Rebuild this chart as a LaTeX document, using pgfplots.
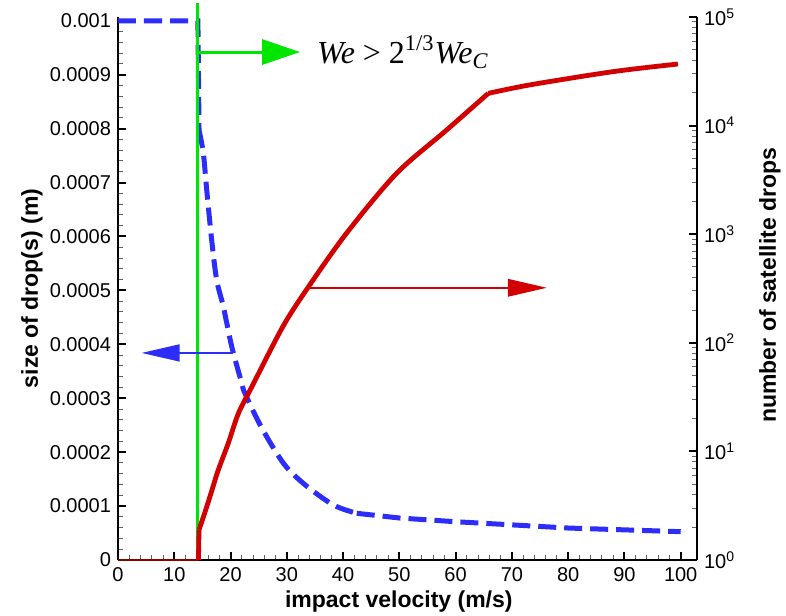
\documentclass[border=0pt]{standalone}
\usepackage{pgfplots}
\pgfplotsset{compat=1.18}
\usepackage{fontspec}
\setmainfont{Liberation Sans}
\newfontfamily\timesf{Liberation Serif}
\usetikzlibrary{arrows.meta}

\definecolor{dropblue}{RGB}{45,45,250}
\definecolor{satred}{RGB}{210,0,0}
\definecolor{critgreen}{RGB}{0,230,0}

% common look of both axes (1 px of the reference = 0.5pt)
\pgfplotsset{
  every axis/.append style={
    scale only axis, width=289.5pt, height=271.5pt,
    xmin=0, xmax=102.9,
    tick label style={font=\fontsize{10}{12}\selectfont},
    label style={font=\fontsize{11.5}{13}\selectfont\bfseries},
    /pgf/number format/assume math mode=true,
    axis line style={line width=1.2pt,-},
    tick align=inside,
    major tick length=4pt, minor tick length=2.5pt,
    major tick style={black,line width=1pt},
    minor tick style={black!60,line width=0.5pt},
  }
}

\begin{document}
\begin{tikzpicture}
\begin{axis}[name=main,
  axis x line*=bottom, axis y line*=left,
  ymin=0, ymax=0.001007,
  xtick={0,10,20,30,40,50,60,70,80,90,100},
  minor x tick num=4,
  ytick={0,0.0001,0.0002,0.0003,0.0004,0.0005,0.0006,0.0007,0.0008,0.0009,0.001},
  yticklabels={0,0.0001,0.0002,0.0003,0.0004,0.0005,0.0006,0.0007,0.0008,0.0009,0.001},
  scaled y ticks=false,
  minor y tick num=4,
  xlabel={impact velocity (m/s)},
  ylabel={size of drop(s) (m)},
  xlabel style={at={([yshift=-23.5pt]axis description cs:0.485,0)},anchor=base},
  ylabel style={at={([xshift=-43pt]axis description cs:0,0.5)},anchor=center},
  clip=false,
]
% size of drop(s)
\addplot[dropblue, line width=2.5pt, dash pattern=on 9pt off 4pt] coordinates {
  (0,0.001) (14.2,0.001) (14.4,0.000797)
};
\addplot[dropblue, line width=2.5pt, dash pattern=on 9pt off 4pt, smooth, tension=0.5] coordinates {
  (14.4,0.000797) (15.16,0.000755) (15.77,0.000686)
  (16.65,0.000593) (17.54,0.000519) (18.72,0.00047) (20.21,0.000396)
  (21.99,0.000328) (22.57,0.000309) (25.54,0.000245) (29.5,0.000178)
  (33.3,0.000139) (38.27,0.000102) (42.43,0.0000866)
};
\addplot[dropblue, line width=2.5pt, dash pattern=on 9pt off 4pt] coordinates {
  (42.43,0.0000866) (50,0.0000779) (60,0.000071) (80,0.0000593) (100,0.0000525)
};
% critical velocity
\addplot[critgreen, line width=1.5pt] coordinates {(14.17,0) (14.17,0.001033)};
\draw[critgreen, line width=1.5pt, -{Triangle[length=19pt,width=12.5pt]}]
  (axis cs:14.17,0.000942) -- (axis cs:32.35,0.000942);
\node[anchor=west, font=\fontsize{16}{19}\selectfont\timesf, inner sep=0pt]
  at (axis cs:35.3,0.000942)
  {\itshape We \upshape> 2\textsuperscript{1/3}\itshape We\textsubscript{C}};
\draw[dropblue, line width=0.75pt, -{Triangle[length=19pt,width=8.5pt]}]
  (axis cs:20.4,0.000384) -- (axis cs:4.2,0.000384);
\end{axis}

\begin{axis}[
  axis y line*=right, axis x line=none,
  ymode=log, ymin=1, ymax=100000,
  ytick={1,10,100,1000,10000,100000},
  yticklabels={10\textsuperscript{0},10\textsuperscript{1},10\textsuperscript{2},10\textsuperscript{3},10\textsuperscript{4},10\textsuperscript{5}},
  minor ytick={2,3,4,5,6,7,8,9,20,30,40,50,60,70,80,90,200,300,400,500,600,700,800,900,
    2000,3000,4000,5000,6000,7000,8000,9000,20000,30000,40000,50000,60000,70000,80000,90000},
  ylabel={number of satellite drops},
  ylabel style={at={([xshift=36.5pt]axis description cs:1,0.506)},anchor=center},
  clip=false,
]
% number of satellite drops
\addplot[satred, line width=0.6pt] coordinates {(0,1) (14.2,1) (14.3,1.9)};
\addplot[satred, line width=2.4pt] coordinates {(14.3,1) (14.4,1.9)};
\addplot[satred, line width=2.4pt, smooth, tension=0.5] coordinates {
  (14.4,1.9) (15.5,2.8) (16.7,4.4) (17.8,6.7) (19.6,11.9) (21.4,22.4)
  (23.8,39.5) (29.3,141) (33.8,325) (40.6,1019) (49.5,3630) (58.4,9100)
  (65.8,19800)
};
\addplot[satred, line width=2.4pt, smooth, tension=0.5] coordinates {
  (65.8,19800) (73.2,23700) (88.0,31400) (99.5,36900)
};
\draw[satred, line width=0.75pt, -{Triangle[length=19.5pt,width=8.8pt]}]
  (axis cs:33.8,321) -- (axis cs:76.2,321);
\end{axis}

\pgfresetboundingbox
\path[use as bounding box] ([xshift=-59pt,yshift=-27.5pt]main.south west)
  rectangle ([xshift=44.5pt,yshift=8.5pt]main.north east);
\end{tikzpicture}
\end{document}
